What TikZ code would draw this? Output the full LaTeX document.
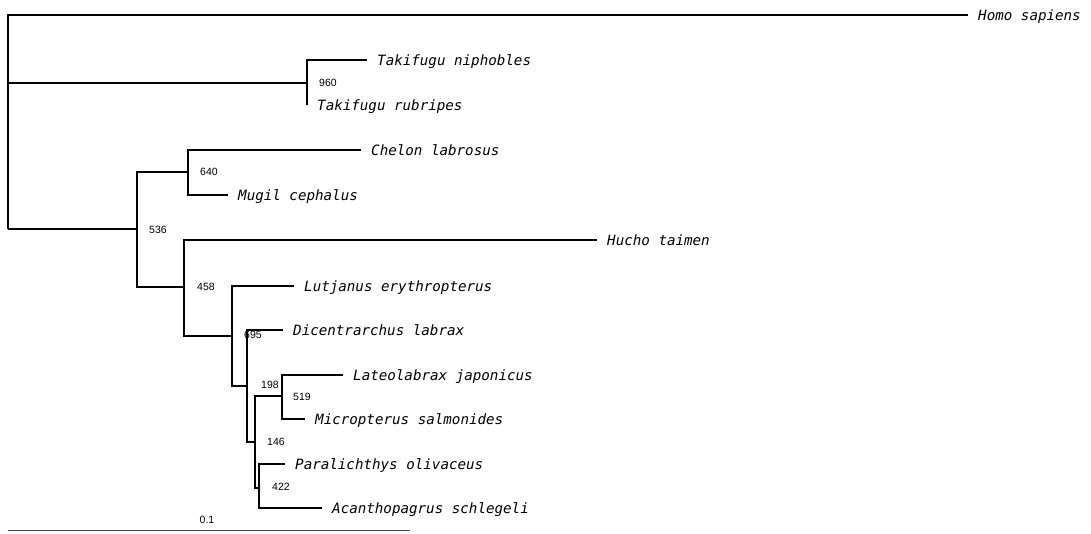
\documentclass[tikz,border=0pt]{standalone}
\usepackage{fontspec}
\setmainfont{Liberation Sans}
\newfontfamily\taxonfont{DejaVu Sans Mono}
\usetikzlibrary{positioning}

\begin{document}
\begin{tikzpicture}[x=1pt, y=-1pt,
        taxon/.style={anchor=west, inner xsep=10pt, inner ysep=0pt,
                      text height=12pt, text depth=2pt,
                      font=\taxonfont\itshape\fontsize{14.2}{16}\selectfont},
        bootval/.style={anchor=west, inner sep=0pt, font=\fontsize{10.5}{12}\selectfont},
        branch/.style={line width=1.5pt}
      ]
        \useasboundingbox (0,0) rectangle (1091,533);

        % internal nodes
        \coordinate (root) at (8,229);
        \coordinate (n960) at (307,83);
        \coordinate (n536) at (137,229);
        \coordinate (n640) at (188,172);
        \coordinate (n458) at (184,287);
        \coordinate (n695) at (232,336);
        \coordinate (n198) at (247,386);
        \coordinate (n146) at (255,442);
        \coordinate (n519) at (282,396);
        \coordinate (n422) at (259,488);

        % tips
        \node[taxon] (homo)   at (968,15)  {Homo sapiens};
        \node[taxon] (niph)   at (367,60)  {Takifugu niphobles};
        \node[taxon] (rubr)   at (307,105) {Takifugu rubripes};
        \node[taxon] (chelon) at (361,150) {Chelon labrosus};
        \node[taxon] (mugil)  at (228,195) {Mugil cephalus};
        \node[taxon] (hucho)  at (597,240) {Hucho taimen};
        \node[taxon] (lutj)   at (294,286) {Lutjanus erythropterus};
        \node[taxon] (dicen)  at (283,330) {Dicentrarchus labrax};
        \node[taxon] (lateo)  at (343,375) {Lateolabrax japonicus};
        \node[taxon] (micro)  at (305,419) {Micropterus salmonides};
        \node[taxon] (paral)  at (285,464) {Paralichthys olivaceus};
        \node[taxon] (acanth) at (322,508) {Acanthopagrus schlegeli};

        % bootstrap values
        \node[bootval] (b960) at (319,83)  {960};
        \node[bootval] (b640) at (200,172) {640};
        \node[bootval] (b536) at (149,230) {536};
        \node[bootval] (b458) at (197,287) {458};
        \node[bootval] (b695) at (244,335) {695};
        \node[bootval] (b198) at (261,385) {198};
        \node[bootval] (b146) at (267,442) {146};
        \node[bootval] (b519) at (293,397) {519};
        \node[bootval] (b422) at (272,487) {422};

        % branches
        \draw[branch] (root) |- (homo.west);
        \draw[branch] (root) |- (n960);
        \draw[branch] (root) |- (n536);
        \draw[branch] (n960) |- (niph.west);
        \draw[branch] (n960) |- (rubr.west);
        \draw[branch] (n536) |- (n640);
        \draw[branch] (n536) |- (n458);
        \draw[branch] (n640) |- (chelon.west);
        \draw[branch] (n640) |- (mugil.west);
        \draw[branch] (n458) |- (hucho.west);
        \draw[branch] (n458) |- (n695);
        \draw[branch] (n695) |- (lutj.west);
        \draw[branch] (n695) |- (n198);
        \draw[branch] (n198) |- (dicen.west);
        \draw[branch] (n198) |- (n146);
        \draw[branch] (n146) |- (n519);
        \draw[branch] (n146) |- (n422);
        \draw[branch] (n519) |- (lateo.west);
        \draw[branch] (n519) |- (micro.west);
        \draw[branch] (n422) |- (paral.west);
        \draw[branch] (n422) |- (acanth.west);

        % scale bar
        \coordinate (sbl) at (8,530);
        \coordinate (sbr) at (410,530);
        \draw[line width=1pt, black!70] (sbl) -- (sbr);
        \node[bootval, anchor=center] (sbtxt) at (207,520) {0.1};
      \end{tikzpicture}
\end{document}
